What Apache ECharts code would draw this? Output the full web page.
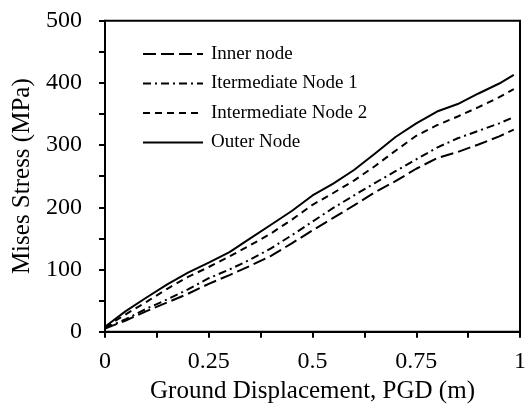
<!DOCTYPE html>
<html>
<head>
<meta charset="utf-8">
<script src="https://cdn.jsdelivr.net/npm/echarts@6/dist/echarts.min.js"></script>
<style>
  html, body { margin: 0; padding: 0; background: #fff; }
  #chart { width: 529px; height: 410px; }
</style>
</head>
<body>
<div id="chart"></div>
<script>
// Ground displacement PGD (m)
const pgd = [0, 0.05, 0.1, 0.15, 0.2, 0.25, 0.3, 0.35, 0.4, 0.45, 0.5,
             0.55, 0.6, 0.65, 0.7, 0.75, 0.8, 0.85, 0.9, 0.95, 0.985];

// Mises stress (MPa) at each node
const innerNode = [5, 18, 33, 47, 61, 77, 91, 106, 122, 142, 163,
                   183, 203, 224, 242, 262, 279, 289, 301, 314, 325];
const intermediateNode1 = [6, 20, 37, 52, 68, 86, 100, 116, 134, 155, 177,
                           199, 219, 239, 258, 277, 296, 311, 323, 335, 345];
const intermediateNode2 = [7, 28, 48, 69, 88, 104, 121, 139, 158, 180, 204,
                           223, 243, 266, 291, 315, 332, 346, 361, 377, 390];
const outerNode = [8, 33, 55, 76, 95, 111, 128, 150, 172, 194, 219,
                   238, 260, 286, 313, 335, 354, 366, 383, 399, 413];

const seriesNames = ['Inner node', 'Itermediate Node 1', 'Intermediate Node 2', 'Outer Node'];
const xTickLabels = { 0: '0', 0.25: '0.25', 0.5: '0.5', 0.75: '0.75', 1: '1' };

const font = 'Liberation Serif';

function pairs(ys) {
  return pgd.map((x, i) => [x, ys[i]]);
}

function lineSeries(name, ys, dash) {
  return {
    name: name,
    type: 'line',
    data: pairs(ys),
    symbol: 'none',
    smooth: false,
    lineStyle: { color: '#000', width: 2, type: dash },
    itemStyle: { color: '#000' }
  };
}

const chart = echarts.init(document.getElementById('chart'));
chart.setOption({
  animation: false,
  backgroundColor: '#fff',
  grid: {
    left: 105, right: 2.5, top: 20.7, bottom: 78.3,
    show: true, borderColor: '#000', borderWidth: 2
  },
  legend: {
    orient: 'vertical',
    left: 142,
    top: 44,
    padding: 0,
    itemWidth: 60,
    itemHeight: 20,
    itemGap: 9.5,
    data: seriesNames,
    itemStyle: { opacity: 0 },
    textStyle: { fontFamily: font, fontSize: 19, color: '#000', lineHeight: 20, padding: [0, 0, 0, 3] }
  },
  xAxis: {
    type: 'value',
    min: 0, max: 1, interval: 0.125,
    name: 'Ground Displacement, PGD (m)',
    nameLocation: 'middle',
    nameGap: 28,
    nameTextStyle: { fontFamily: font, fontSize: 25, color: '#000' },
    axisLine: { show: true, lineStyle: { color: '#000', width: 2 } },
    axisTick: { show: true, inside: false, length: 6, lineStyle: { color: '#000', width: 2 } },
    axisLabel: {
      fontFamily: font, fontSize: 24, color: '#000', margin: 18,
      showMaxLabel: true,
      formatter: v => {
        const k = Math.round(v * 1000) / 1000;
        return xTickLabels[k] !== undefined ? xTickLabels[k] : '';
      }
    },
    splitLine: { show: false }
  },
  yAxis: {
    type: 'value',
    min: 0, max: 500, interval: 50,
    name: 'Mises Stress (MPa)',
    nameLocation: 'middle',
    nameGap: 68,
    nameTextStyle: { fontFamily: font, fontSize: 25, color: '#000' },
    axisLine: { show: true, lineStyle: { color: '#000', width: 2 } },
    axisTick: { show: true, inside: false, length: 6, lineStyle: { color: '#000', width: 2 } },
    axisLabel: {
      fontFamily: font, fontSize: 24, color: '#000', margin: 23,
      formatter: v => (v % 100 === 0 ? String(v) : '')
    },
    splitLine: { show: false }
  },
  series: [
    lineSeries(seriesNames[0], innerNode, [13, 5]),
    lineSeries(seriesNames[1], intermediateNode1, [8, 4, 2, 4]),
    lineSeries(seriesNames[2], intermediateNode2, [7, 5]),
    lineSeries(seriesNames[3], outerNode, 'solid')
  ]
});
</script>
</body>
</html>
